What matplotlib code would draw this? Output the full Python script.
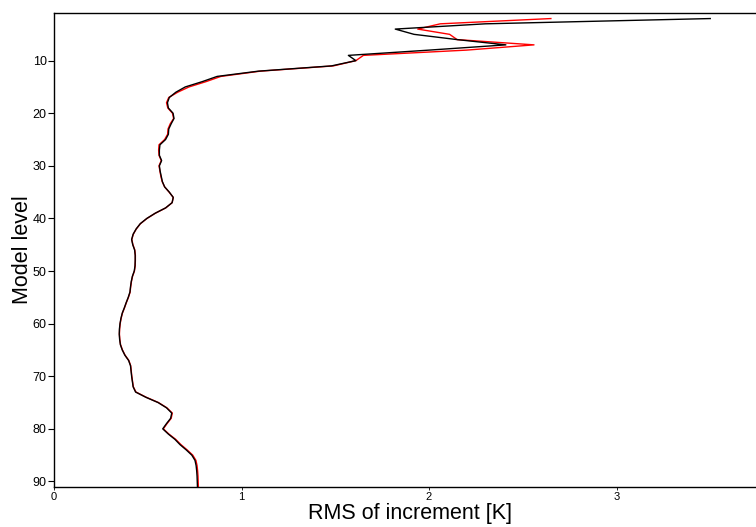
import matplotlib as mpl
import matplotlib.pyplot as plt

mpl.rcParams.update(
    {
        "font.family": "sans-serif",
        "font.sans-serif": ["Liberation Sans", "DejaVu Sans"],
    }
)

# model levels 2..91
levels = list(range(2, 92))

rms_black = [
    3.50, 2.30, 1.82, 1.92, 2.15, 2.41, 2.00, 1.57, 1.61, 1.48,
    1.09, 0.87, 0.79, 0.70, 0.65, 0.615, 0.605, 0.61, 0.635, 0.64,
    0.625, 0.612, 0.61, 0.595, 0.565, 0.562, 0.562, 0.574, 0.562, 0.566,
    0.572, 0.578, 0.59, 0.615, 0.636, 0.63, 0.595, 0.54, 0.495, 0.46,
    0.438, 0.422, 0.414, 0.42, 0.43, 0.433, 0.433, 0.432, 0.428, 0.418,
    0.412, 0.408, 0.405, 0.396, 0.385, 0.375, 0.364, 0.357, 0.352, 0.349,
    0.348, 0.35, 0.354, 0.364, 0.378, 0.398, 0.408, 0.411, 0.414, 0.418,
    0.422, 0.435, 0.49, 0.555, 0.60, 0.628, 0.622, 0.60, 0.58, 0.61,
    0.645, 0.672, 0.705, 0.735, 0.752, 0.758, 0.761, 0.763, 0.764, 0.765,
]

rms_red = [
    2.65, 2.06, 1.94, 2.11, 2.15, 2.56, 2.20, 1.65, 1.61, 1.49,
    1.10, 0.89, 0.81, 0.72, 0.66, 0.612, 0.60, 0.607, 0.632, 0.638,
    0.62, 0.608, 0.606, 0.59, 0.56, 0.558, 0.56, 0.572, 0.56, 0.565,
    0.57, 0.577, 0.59, 0.614, 0.636, 0.63, 0.596, 0.541, 0.496, 0.461,
    0.439, 0.423, 0.415, 0.421, 0.431, 0.434, 0.434, 0.433, 0.429, 0.419,
    0.413, 0.409, 0.406, 0.397, 0.386, 0.376, 0.365, 0.358, 0.353, 0.35,
    0.349, 0.351, 0.355, 0.365, 0.379, 0.399, 0.409, 0.412, 0.415, 0.419,
    0.423, 0.437, 0.492, 0.557, 0.602, 0.631, 0.625, 0.603, 0.583, 0.613,
    0.649, 0.677, 0.71, 0.74, 0.757, 0.763, 0.766, 0.768, 0.769, 0.77,
]

xticks = [0, 1, 2, 3]
yticks = [10, 20, 30, 40, 50, 60, 70, 80, 90]

fig = plt.figure(figsize=(7.56, 5.27), dpi=100)
# axes run past the right edge of the figure, so the right side is cut off
ax = fig.add_axes([54 / 756, 40.3 / 527, 712.5 / 756, 473.4 / 527])

ax.plot(rms_red, levels, color="red", linewidth=1.0)
ax.plot(rms_black, levels, color="black", linewidth=1.0)

ax.set_xlim(0, 3.8)
ax.set_ylim(91, 1)

ax.set_xticks(xticks)
ax.set_yticks(yticks)
ax.tick_params(axis="y", direction="out", length=4.3, width=0.8, pad=1, labelsize=9)
ax.tick_params(axis="x", direction="out", length=2, width=0.6, pad=1.5, labelsize=8)

for side in ("left", "bottom", "top", "right"):
    ax.spines[side].set_linewidth(1.0)

ax.set_xlabel("RMS of increment [K]", fontsize=15.5, labelpad=1)
ax.set_ylabel("Model level", fontsize=15.5, labelpad=0)

fig.savefig("out.png", dpi=100)
plt.close(fig)
